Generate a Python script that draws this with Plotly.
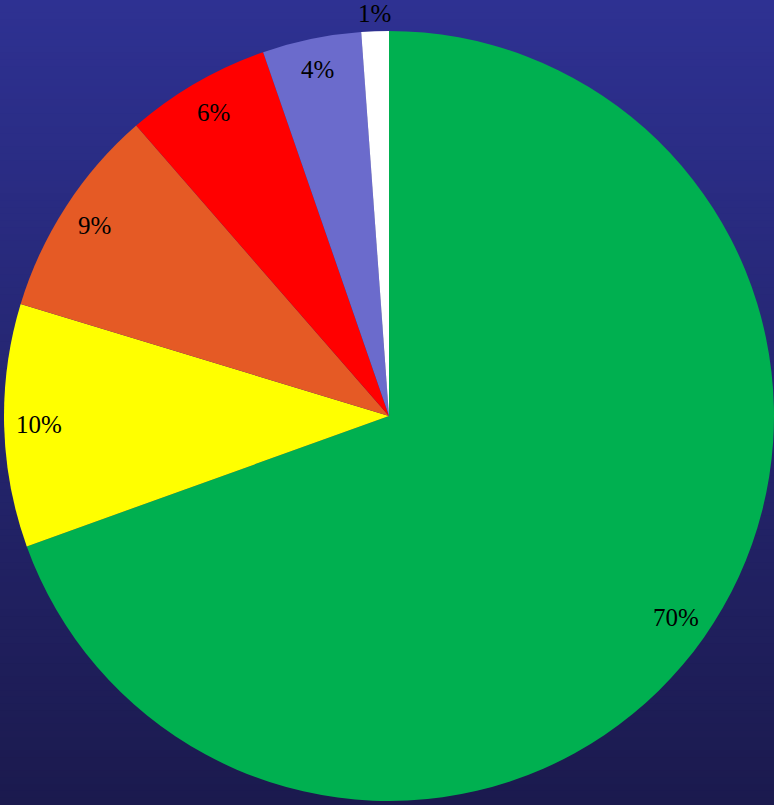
import math
import plotly.graph_objects as go

labels = ["A", "B", "C", "D", "E", "F"]
values = [69.5, 10.2, 8.9, 6.1, 4.15, 1.15]
text_labels = ["70%", "10%", "9%", "6%", "4%", "1%"]
colors = ["#00b050", "#ffff00", "#e55a25", "#ff0000", "#6b6bcc", "#ffffff"]
label_radius = [0.91, 0.91, 0.91, 0.91, 0.92, 1.045]

W, H = 774, 805
CX, CY, R = 389, 416, 385  # pixel centre (from top) and radius

fig = go.Figure()
fig.add_trace(go.Pie(
    labels=labels, values=values, sort=False, direction="clockwise",
    rotation=0, textinfo="none", hoverinfo="label+percent",
    marker=dict(colors=colors, line=dict(width=0)),
    domain=dict(x=[(CX - R) / W, (CX + R) / W], y=[(H - CY - R) / H, (H - CY + R) / H]),
    showlegend=False,
))

# gradient background
top = (46, 49, 146)
bot = (27, 26, 78)
n = 120
shapes = []
for i in range(n):
    t = i / (n - 1)
    c = tuple(round(top[k] + (bot[k] - top[k]) * t) for k in range(3))
    shapes.append(dict(type="rect", xref="paper", yref="paper", layer="below",
                       x0=0, x1=1, y0=1 - (i + 1) / n, y1=1 - i / n + 0.001,
                       fillcolor="rgb(%d,%d,%d)" % c, line=dict(width=0)))

total = sum(values)
annotations = []
cum = 0
for v, txt, lr in zip(values, text_labels, label_radius):
    mid = (cum + v / 2) / total * 2 * math.pi
    cum += v
    px = CX + lr * R * math.sin(mid)
    py = CY - lr * R * math.cos(mid)
    annotations.append(dict(x=px / W, y=1 - py / H, xref="paper", yref="paper",
                            xanchor="center", yanchor="middle",
                            text=txt, showarrow=False,
                            font=dict(family="Liberation Serif", size=25, color="#000000")))

fig.update_layout(width=W, height=H, margin=dict(l=0, r=0, t=0, b=0),
                  paper_bgcolor="#26276e", plot_bgcolor="rgba(0,0,0,0)",
                  shapes=shapes, annotations=annotations)
fig.write_html("out.html", config={"displayModeBar": False},
               post_script="document.body.style.margin='0px';")
